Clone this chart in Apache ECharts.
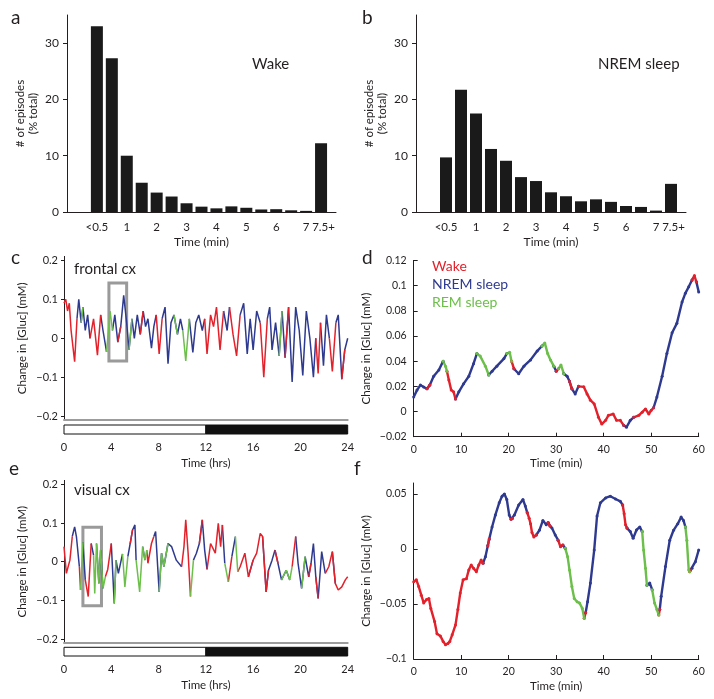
<!DOCTYPE html>
<html><head><meta charset="utf-8">
<script src="https://cdn.jsdelivr.net/npm/echarts@6/dist/echarts.min.js"></script>
<style>html,body{margin:0;padding:0;background:#fff}#c{width:714px;height:699px}</style>
</head><body><div id="c"></div>
<script>
// ---------- data ----------
const binCenters = [0,0.5,1,1.5,2,2.5,3,3.5,4,4.5,5,5.5,6,6.5,7,7.5];
const wakePct = [33.0,27.3,10.0,5.2,3.45,2.75,1.55,0.95,0.65,1.0,0.75,0.45,0.5,0.3,0.2,12.2];
const nremPct = [9.7,21.7,17.5,11.2,9.1,6.2,5.5,3.5,2.8,1.9,2.25,1.8,1.07,0.9,0.25,5.0];
const histTicks = [0,1,2,3,4,5,6,7];
const histLastTick = [7.5];
const lightDark = [[0,12,0],[12,24,1]];
const boxC = [3.8,5.3,-0.058,0.142];
const boxE = [1.6,3.17,-0.114,0.089];

// [time (h), change in glucose (mM), state W=wake N=NREM R=REM]
const cTrace = [
[0,0.09,'W'],[0.15,0.10,'W'],[0.3,0.07,'W'],[0.45,0.09,'W'],[0.6,0.02,'W'],[0.9,-0.06,'W'],[1.1,0.05,'N'],[1.25,0.10,'N'],[1.45,0.04,'R'],[1.6,0.08,'N'],[1.8,0.02,'N'],[2.0,0.06,'N'],[2.2,0.0,'W'],[2.5,0.05,'W'],[2.83,-0.043,'W'],[3.1,0.06,'N'],[3.3,0.02,'N'],[3.6,-0.035,'R'],[3.9,0.07,'R'],[4.1,0.02,'N'],[4.3,0.06,'N'],[4.55,-0.01,'W'],[4.8,0.03,'N'],[5.05,0.11,'N'],[5.3,0.04,'N'],[5.5,-0.03,'R'],[5.75,0.05,'N'],[5.95,0.0,'N'],[6.2,0.06,'N'],[6.45,0.01,'W'],[6.7,0.07,'N'],[6.9,0.03,'N'],[7.1,0.05,'N'],[7.4,-0.025,'N'],[7.6,0.03,'N'],[7.8,0.06,'W'],[8.05,-0.04,'W'],[8.3,0.05,'N'],[8.55,0.08,'N'],[8.8,-0.065,'N'],[9.05,0.04,'N'],[9.3,0.06,'R'],[9.6,0.01,'N'],[9.85,0.05,'N'],[10.05,0.02,'R'],[10.3,-0.058,'R'],[10.6,0.05,'N'],[10.9,-0.036,'N'],[11.15,0.04,'N'],[11.4,0.06,'N'],[11.7,0.02,'N'],[11.9,0.05,'W'],[12.1,-0.04,'W'],[12.4,0.06,'W'],[12.65,0.03,'W'],[12.9,0.08,'W'],[13.2,-0.03,'W'],[13.5,0.07,'N'],[13.8,0.02,'N'],[14.0,0.08,'W'],[14.3,0.01,'W'],[14.6,-0.045,'W'],[14.9,0.06,'N'],[15.2,0.09,'N'],[15.5,-0.04,'N'],[15.75,0.05,'N'],[16.0,-0.03,'N'],[16.3,0.07,'N'],[16.6,0.04,'W'],[16.9,-0.10,'W'],[17.2,0.05,'N'],[17.4,0.08,'N'],[17.6,-0.03,'N'],[17.9,0.04,'N'],[18.2,-0.045,'R'],[18.45,0.07,'N'],[18.7,-0.05,'W'],[19.0,0.08,'N'],[19.3,-0.112,'N'],[19.6,0.08,'N'],[19.9,0.02,'N'],[20.2,-0.095,'N'],[20.5,0.07,'N'],[20.8,0.0,'N'],[21.1,-0.10,'N'],[21.3,0.0,'W'],[21.5,-0.09,'W'],[21.7,0.04,'N'],[21.95,-0.07,'N'],[22.2,0.06,'N'],[22.45,0.0,'W'],[22.7,-0.085,'W'],[23.0,0.04,'N'],[23.2,0.06,'N'],[23.5,-0.105,'W'],[23.75,-0.03,'N'],[24.0,0.0,'N']
];
const eTrace = [
[0,0.039,'W'],[0.2,-0.03,'W'],[0.5,0.004,'W'],[0.7,0.065,'N'],[0.9,0.09,'N'],[1.05,0.065,'N'],[1.3,-0.013,'W'],[1.4,-0.073,'R'],[1.6,0.05,'N'],[1.8,-0.047,'W'],[2.05,-0.09,'W'],[2.3,0.047,'N'],[2.5,0.017,'R'],[2.6,-0.082,'R'],[2.75,0.047,'N'],[2.95,-0.056,'R'],[3.1,0.03,'N'],[3.3,-0.069,'R'],[3.5,-0.039,'W'],[3.7,-0.02,'W'],[4.0,0.047,'N'],[4.25,-0.108,'R'],[4.4,0.004,'N'],[4.6,-0.03,'N'],[4.95,0.02,'R'],[5.15,-0.065,'R'],[5.4,0.013,'N'],[5.6,0.047,'W'],[5.8,0.082,'N'],[6.0,0.095,'N'],[6.1,0.004,'R'],[6.4,-0.078,'R'],[6.65,0.039,'N'],[6.85,0.004,'R'],[7.0,0.03,'W'],[7.1,-0.004,'W'],[7.4,0.047,'W'],[7.6,0.065,'N'],[7.75,0.078,'N'],[8.05,-0.078,'R'],[8.25,0.022,'N'],[8.45,-0.013,'R'],[8.8,0.047,'N'],[9.1,0.039,'N'],[9.5,0.004,'N'],[9.95,-0.013,'W'],[10.15,0.039,'W'],[10.3,0.108,'W'],[10.5,0.022,'W'],[10.7,-0.09,'R'],[10.95,0.004,'N'],[11.2,0.022,'N'],[11.45,0.047,'W'],[11.7,0.108,'N'],[11.9,0.03,'N'],[12.1,-0.02,'W'],[12.4,0.047,'W'],[12.8,0.022,'W'],[13.05,0.099,'W'],[13.25,0.039,'W'],[13.4,0.095,'N'],[13.6,-0.004,'R'],[13.9,-0.052,'W'],[14.2,0.013,'N'],[14.5,0.065,'R'],[14.7,-0.026,'W'],[14.9,-0.013,'W'],[15.3,0.022,'W'],[15.6,-0.039,'N'],[16.0,0.004,'W'],[16.3,0.022,'W'],[16.6,0.073,'W'],[16.8,0.065,'N'],[17.1,-0.078,'W'],[17.3,-0.022,'N'],[17.6,0.004,'N'],[17.85,0.03,'W'],[18.1,-0.004,'N'],[18.4,-0.047,'R'],[18.8,-0.022,'N'],[19.1,-0.047,'R'],[19.3,-0.013,'W'],[19.6,0.065,'N'],[19.8,-0.004,'N'],[20.1,-0.069,'R'],[20.4,0.013,'N'],[20.7,-0.039,'W'],[20.9,-0.004,'N'],[21.1,0.047,'N'],[21.3,-0.039,'W'],[21.5,-0.095,'N'],[21.8,0.026,'N'],[22.1,-0.03,'W'],[22.4,-0.013,'W'],[22.7,0.026,'N'],[22.95,-0.056,'W'],[23.2,-0.073,'W'],[23.5,-0.065,'W'],[23.8,-0.047,'W'],[24,-0.039,'W']
];
// [time (min), change in glucose (mM), state]
const dTrace = [
[0,0.0115,'N'],[0.7,0.017,'N'],[1.4,0.021,'N'],[2.1,0.0195,'N'],[2.8,0.018,'W'],[3.4,0.021,'N'],[4.2,0.028,'N'],[5.3,0.033,'N'],[6.2,0.04,'R'],[6.7,0.036,'R'],[7.0,0.032,'W'],[7.4,0.025,'W'],[7.9,0.017,'W'],[8.4,0.0156,'W'],[8.8,0.010,'N'],[9.5,0.0156,'N'],[10.5,0.022,'N'],[11.6,0.028,'N'],[12.6,0.038,'N'],[13.3,0.046,'R'],[14.0,0.044,'R'],[15.1,0.036,'R'],[15.8,0.029,'N'],[16.5,0.032,'N'],[17.5,0.036,'N'],[19.0,0.042,'N'],[19.6,0.046,'R'],[20.2,0.047,'R'],[20.6,0.04,'W'],[21.1,0.034,'N'],[22.1,0.030,'N'],[23.2,0.036,'N'],[24.6,0.041,'N'],[26.0,0.048,'N'],[27.0,0.052,'R'],[27.6,0.0545,'R'],[28.2,0.046,'R'],[28.8,0.041,'R'],[29.5,0.036,'N'],[30.0,0.032,'W'],[30.5,0.034,'R'],[31.0,0.037,'R'],[31.6,0.030,'N'],[32.3,0.028,'N'],[32.8,0.024,'W'],[33.3,0.018,'N'],[34.0,0.014,'N'],[34.7,0.020,'W'],[35.8,0.0196,'W'],[36.5,0.014,'W'],[37.2,0.009,'W'],[38.0,0.006,'W'],[38.9,-0.0045,'W'],[39.6,-0.010,'W'],[40.4,-0.007,'W'],[41.0,-0.003,'W'],[42.0,-0.002,'W'],[42.7,-0.007,'W'],[43.5,-0.007,'W'],[44.2,-0.011,'N'],[44.8,-0.0125,'N'],[45.6,-0.007,'N'],[46.3,-0.0046,'W'],[47.4,-0.003,'W'],[48.1,-0.0005,'W'],[48.8,0.002,'W'],[49.5,-0.002,'W'],[50.0,0.001,'W'],[50.5,0.003,'N'],[51.2,0.0115,'N'],[52.3,0.028,'N'],[53.3,0.046,'N'],[54.4,0.0625,'N'],[55.4,0.070,'N'],[56.5,0.087,'N'],[57.2,0.094,'N'],[57.9,0.099,'N'],[58.6,0.1045,'W'],[59.1,0.108,'W'],[59.5,0.103,'N'],[60,0.095,'N']
];
const fTrace = [
[0,-0.0297,'W'],[0.56,-0.028,'W'],[1.05,-0.034,'W'],[1.6,-0.042,'W'],[2.1,-0.049,'W'],[2.7,-0.046,'W'],[3.2,-0.045,'W'],[3.6,-0.054,'W'],[4.4,-0.066,'W'],[4.9,-0.077,'W'],[5.6,-0.079,'W'],[6.2,-0.084,'W'],[6.7,-0.087,'W'],[7.2,-0.086,'W'],[7.6,-0.084,'W'],[8.1,-0.078,'W'],[8.8,-0.069,'W'],[9.3,-0.055,'W'],[9.8,-0.040,'W'],[10.4,-0.028,'W'],[11.1,-0.027,'W'],[11.6,-0.019,'W'],[12.1,-0.0145,'W'],[12.6,-0.0176,'W'],[13.2,-0.0206,'W'],[13.7,-0.0145,'W'],[14.2,-0.010,'W'],[14.6,-0.013,'N'],[15.1,-0.007,'N'],[15.6,0.003,'W'],[15.9,0.009,'N'],[16.5,0.020,'N'],[17.2,0.031,'N'],[18.0,0.042,'N'],[18.6,0.048,'N'],[19.1,0.050,'N'],[19.6,0.045,'N'],[20.1,0.031,'N'],[20.5,0.027,'W'],[20.8,0.028,'N'],[21.2,0.031,'N'],[22.1,0.040,'N'],[23.0,0.045,'N'],[23.5,0.039,'N'],[23.9,0.033,'W'],[24.3,0.028,'W'],[24.6,0.023,'W'],[24.9,0.015,'W'],[25.3,0.011,'W'],[25.8,0.0127,'N'],[26.5,0.0173,'N'],[27.2,0.026,'N'],[27.9,0.022,'N'],[28.3,0.024,'W'],[28.7,0.021,'N'],[29.1,0.019,'N'],[29.8,0.0127,'N'],[30.4,0.008,'W'],[30.9,0.002,'W'],[31.4,0.0036,'N'],[31.9,0.0006,'R'],[32.4,-0.007,'R'],[32.8,-0.019,'R'],[33.3,-0.034,'R'],[33.8,-0.045,'R'],[34.4,-0.048,'R'],[34.9,-0.049,'R'],[35.5,-0.054,'R'],[35.9,-0.063,'W'],[36.2,-0.058,'N'],[36.6,-0.048,'N'],[37.2,-0.031,'N'],[38.0,-0.001,'N'],[38.6,0.030,'N'],[39.3,0.042,'N'],[40.4,0.0464,'N'],[41.4,0.048,'N'],[42.5,0.0455,'N'],[43.5,0.0433,'N'],[44.0,0.040,'W'],[44.3,0.032,'W'],[44.6,0.022,'W'],[44.9,0.019,'N'],[45.6,0.0158,'N'],[46.2,0.0097,'N'],[46.9,0.0173,'N'],[47.6,0.020,'N'],[48.1,0.0158,'R'],[48.4,-0.001,'R'],[48.8,-0.0176,'R'],[49.1,-0.033,'N'],[49.7,-0.031,'N'],[50.2,-0.037,'R'],[50.7,-0.049,'R'],[51.2,-0.055,'R'],[51.6,-0.060,'W'],[51.8,-0.055,'N'],[52.1,-0.043,'N'],[53.0,-0.016,'N'],[53.9,0.008,'N'],[54.7,0.017,'N'],[55.6,0.023,'N'],[56.3,0.029,'N'],[56.8,0.026,'N'],[57.2,0.020,'R'],[57.5,0.008,'R'],[57.9,-0.019,'R'],[58.1,-0.0206,'W'],[58.3,-0.019,'N'],[58.6,-0.0176,'N'],[59.3,-0.0115,'N'],[60,-0.0009,'N']
];

// ---------- style ----------
const FONT = 'Lato';
const TXT = '#231f20';
const AX = '#231f20';
const COLORS = {W:'#e3212b', N:'#2e3a8f', R:'#6cbf4a'};

function fmt(v){ return String(parseFloat((+v).toFixed(3))).replace('-', '\u2212'); }
function histFmt(v){ if (v===0) return '<0.5'; if (Math.abs(v-7.5)<1e-9) return '7.5+'; return String(v); }

function stateSeries(trace, ax, width, sym) {
  return ['N','W','R'].map(S => ({
    type:'line', xAxisIndex:ax, yAxisIndex:ax, silent:true, animation:false,
    data: trace.map((p,i) => (p[2]===S || (i>0 && trace[i-1][2]===S)) ? [p[0],p[1]] : [p[0],'-']),
    connectNulls:false,
    showSymbol: !!sym, showAllSymbol:true, symbol:'circle', symbolSize: sym||0,
    itemStyle:{color:COLORS[S]},
    lineStyle:{color:COLORS[S], width:width}
  }));
}
function rectSeries(ax, data, styleFn) {
  return {
    type:'custom', xAxisIndex:ax, yAxisIndex:ax, silent:true, animation:false, clip:false,
    encode:{x:[0,1], y:[2,3]},
    data: data,
    renderItem:(params, api) => {
      const p0 = api.coord([api.value(0), api.value(3)]);
      const p1 = api.coord([api.value(1), api.value(2)]);
      return {type:'rect', shape:{x:p0[0], y:p0[1], width:p1[0]-p0[0], height:p1[1]-p0[1]}, style: styleFn(api)};
    }
  };
}
const nameStyle = (fs) => ({fontFamily:FONT, fontSize:fs, color:TXT});
const line = (c, w) => ({show:true, onZero:false, lineStyle:{color:c, width:w}});

function histX(grid){ return {gridIndex:grid, type:'value', min:-1, max:8, position:'bottom',
  axisLine:line(AX,1), axisTick:{show:false}, splitLine:{show:false},
  axisLabel:{customValues:histTicks, formatter:histFmt, fontFamily:FONT, fontSize:11.5, color:TXT, margin:9},
  name:'Time (min)', nameLocation:'middle', nameGap:24, nameTextStyle:nameStyle(12)}; }
function histX2(grid){ return {gridIndex:grid, type:'value', min:-1, max:8, position:'bottom', offset:0,
  axisLine:{show:false, onZero:false}, axisTick:{show:false}, splitLine:{show:false},
  axisLabel:{customValues:histLastTick, formatter:histFmt, fontFamily:FONT, fontSize:11.5, color:TXT, margin:9, padding:[0,0,0,5]}}; }
function histY(grid){ return {gridIndex:grid, type:'value', min:0, max:35,
  axisLine:line(AX,1),
  axisTick:{show:true, inside:false, length:4, customValues:[0,10,20,30], lineStyle:{color:AX}},
  splitLine:{show:false},
  axisLabel:{customValues:[0,10,20,30], fontFamily:FONT, fontSize:12, color:TXT, margin:8},
  name:'# of episodes\n(% total)', nameLocation:'middle', nameRotate:90, nameGap:27,
  nameTextStyle:Object.assign(nameStyle(11.5), {lineHeight:13})}; }
function traceMainX(grid){ return {gridIndex:grid, type:'value', min:0, max:24,
  axisLine:line('#9c9c9c',2), axisTick:{show:false},
  axisLabel:{show:false}, splitLine:{show:false}}; }
function traceMainY(grid){ return {gridIndex:grid, type:'value', min:-0.21, max:0.21,
  axisLine:line(AX,1),
  axisTick:{show:true, length:3, customValues:[-0.2,-0.1,0,0.1,0.2], lineStyle:{color:AX}},
  splitLine:{show:false},
  axisLabel:{customValues:[-0.2,-0.1,0,0.1,0.2], formatter:fmt, fontFamily:FONT, fontSize:11, color:TXT, margin:6},
  name:'Change in [Gluc] (mM)', nameLocation:'middle', nameRotate:90, nameGap:36, nameTextStyle:nameStyle(11.5)}; }
function barX(grid){ return {gridIndex:grid, type:'value', min:0, max:24, interval:4,
  axisLine:{show:false, onZero:false}, axisTick:{show:true, inside:true, length:3, lineStyle:{color:'#888'}},
  splitLine:{show:false},
  axisLabel:{fontFamily:FONT, fontSize:11, color:TXT, margin:8},
  name:'Time (hrs)', nameLocation:'middle', nameGap:23, nameTextStyle:nameStyle(11.5)}; }
function barY(grid){ return {gridIndex:grid, type:'value', min:0, max:1, show:false}; }
function zoomX(grid){ return {gridIndex:grid, type:'value', min:0, max:60, interval:10,
  axisLine:line(AX,1), axisTick:{show:true, inside:true, length:4, lineStyle:{color:AX}},
  splitLine:{show:false},
  axisLabel:{fontFamily:FONT, fontSize:10.5, color:TXT, margin:7},
  name:'Time (min)', nameLocation:'middle', nameGap:21, nameTextStyle:nameStyle(11.5)}; }

const option = {
  backgroundColor:'#fff',
  animation:false,
  grid:[
    {left:67, top:15, width:269, height:197},
    {left:416, top:15, width:270, height:197},
    {left:64, top:256.4, width:283.7, height:163.8},
    {left:64, top:425, width:283.7, height:9},
    {left:413.7, top:260.4, width:285, height:176.3},
    {left:64, top:480.4, width:283.7, height:162.6},
    {left:64, top:647.3, width:283.7, height:8.7},
    {left:413.7, top:483, width:285, height:176}
  ],
  xAxis:[histX(0), histX(1), traceMainX(2), barX(3), zoomX(4), traceMainX(5), barX(6), zoomX(7), histX2(0), histX2(1)],
  yAxis:[histY(0), histY(1), traceMainY(2), barY(3),
    {gridIndex:4, type:'value', min:-0.02, max:0.12, interval:0.02,
      axisLine:line(AX,1), axisTick:{show:true, inside:true, length:4, lineStyle:{color:AX}},
      splitLine:{show:false},
      axisLabel:{formatter:fmt, fontFamily:FONT, fontSize:10.5, color:TXT, margin:7},
      name:'Change in [Gluc] (mM)', nameLocation:'middle', nameRotate:90, nameGap:41, nameTextStyle:nameStyle(11.5)},
    traceMainY(5), barY(6),
    {gridIndex:7, type:'value', min:-0.1, max:0.06,
      axisLine:line(AX,1),
      axisTick:{show:true, inside:true, length:4, customValues:[-0.1,-0.05,0,0.05], lineStyle:{color:AX}},
      splitLine:{show:false},
      axisLabel:{customValues:[-0.1,-0.05,0,0.05], formatter:fmt, fontFamily:FONT, fontSize:10.5, color:TXT, margin:7},
      name:'Change in [Gluc] (mM)', nameLocation:'middle', nameRotate:90, nameGap:41, nameTextStyle:nameStyle(11.5)}
  ],
  series:[
    {type:'bar', xAxisIndex:0, yAxisIndex:0, barWidth:12, itemStyle:{color:'#1a1a1a'}, silent:true,
      data: binCenters.map((x,i)=>[x, wakePct[i]])},
    {type:'bar', xAxisIndex:1, yAxisIndex:1, barWidth:12, itemStyle:{color:'#1a1a1a'}, silent:true,
      data: binCenters.map((x,i)=>[x, nremPct[i]])},
    ...stateSeries(cTrace, 2, 1.5, 0),
    rectSeries(2, [boxC], () => ({fill:'none', stroke:'#9a9a9a', lineWidth:3})),
    rectSeries(3, lightDark.map(r=>[r[0], r[1], 0, 1, r[2]]), api => ({fill: api.value(4) ? '#111' : '#fff', stroke:'#111', lineWidth:1})),
    ...stateSeries(dTrace, 4, 2.4, 3),
    ...stateSeries(eTrace, 5, 1.5, 0),
    rectSeries(5, [boxE], () => ({fill:'none', stroke:'#9a9a9a', lineWidth:3})),
    rectSeries(6, lightDark.map(r=>[r[0], r[1], 0, 1, r[2]]), api => ({fill: api.value(4) ? '#111' : '#fff', stroke:'#111', lineWidth:1})),
    ...stateSeries(fTrace, 7, 2.4, 3)
  ],
  graphic:[]
};

function txt(x, y, s, size, color) {
  option.graphic.push({type:'text', x:x, y:y, silent:true,
    style:{text:s, font: size + 'px ' + FONT, fill: color || TXT, align:'left', verticalAlign:'middle', textAlign:'left', textVerticalAlign:'middle'}});
}
txt(11, 18, 'a', 19); txt(362, 18, 'b', 19);
txt(11, 258, 'c', 19); txt(362, 258, 'd', 19);
txt(9, 469, 'e', 19); txt(354, 469, 'f', 19);
txt(252, 64, 'Wake', 15); txt(598, 64.5, 'NREM sleep', 15);
txt(74, 269.5, 'frontal cx', 15); txt(74, 490, 'visual cx', 15);
txt(432, 266, 'Wake', 14, COLORS.W);
txt(432, 284, 'NREM sleep', 14, COLORS.N);
txt(432, 302, 'REM sleep', 14, COLORS.R);

const chart = echarts.init(document.getElementById('c'), null, {renderer:'canvas'});
chart.setOption(option);
</script></body></html>
